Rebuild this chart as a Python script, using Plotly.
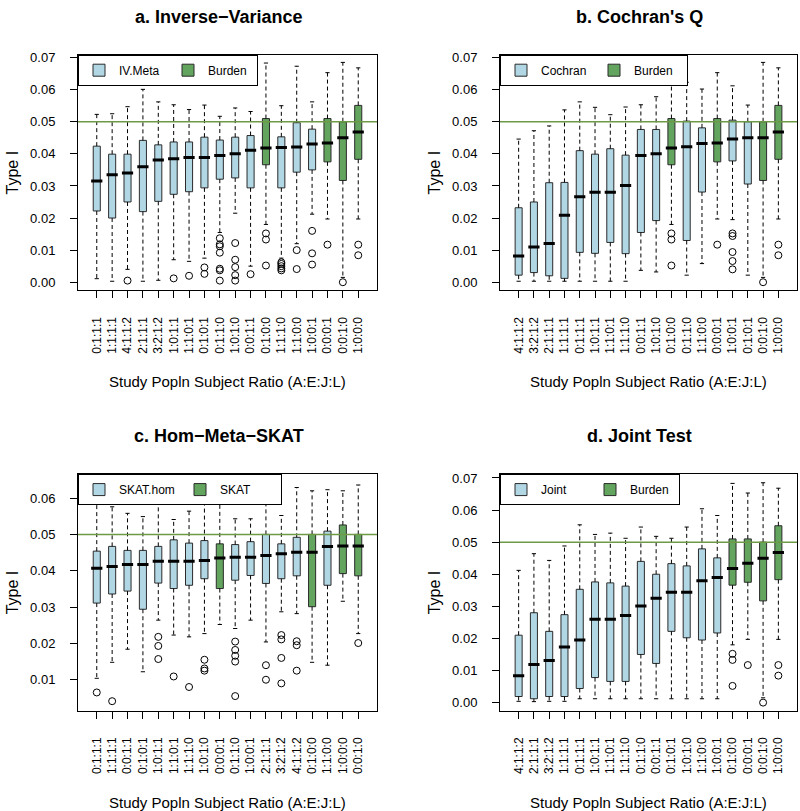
import plotly.graph_objects as go

# ---------------- DATA ----------------
# Panel a: Inverse-Variance
a_labels = ["0:1:1:1", "1:1:1:1", "4:1:1:2", "2:1:1:1", "3:2:1:2", "1:0:1:1", "1:1:0:1", "0:1:0:1", "0:1:1:0",
            "1:0:1:0", "0:0:1:1", "0:1:0:0", "1:1:1:0", "1:1:0:0", "1:0:0:1", "0:0:0:1", "0:0:1:0", "1:0:0:0"]
a_is_ref = [0, 0, 0, 0, 0, 0, 0, 0, 0, 0, 0, 1, 0, 0, 0, 1, 1, 1]
a_upper = [0.0523, 0.0525, 0.0547, 0.0601, 0.0562, 0.0553, 0.0538, 0.0552, 0.0517, 0.0543, 0.0532, 0.0683, 0.0550, 0.0673, 0.0562, 0.0653, 0.0685, 0.0668]
a_q3 = [0.0424, 0.0399, 0.0399, 0.0442, 0.0428, 0.0437, 0.0437, 0.0452, 0.0443, 0.0452, 0.0457, 0.0510, 0.0453, 0.0497, 0.0477, 0.0510, 0.0500, 0.0551]
a_median = [0.0315, 0.0335, 0.0340, 0.0360, 0.0381, 0.0385, 0.0389, 0.0389, 0.0395, 0.0400, 0.0411, 0.0418, 0.0420, 0.0421, 0.0431, 0.0434, 0.0450, 0.0468]
a_q1 = [0.0222, 0.0200, 0.0250, 0.0220, 0.0252, 0.0274, 0.0282, 0.0294, 0.0321, 0.0325, 0.0294, 0.0366, 0.0294, 0.0343, 0.0350, 0.0375, 0.0317, 0.0383]
a_lower = [0.0011, 0.0003, 0.0040, 0.0003, 0.0006, 0.0070, 0.0065, 0.0075, 0.0155, 0.0215, 0.0050, 0.0180, 0.0075, 0.0120, 0.0212, 0.0197, 0.0015, 0.0197]
a_outliers = [[], [], [0.0005], [], [], [0.0012], [0.0020], [0.0046, 0.0026],
              [0.0137, 0.0118, 0.0112, 0.0092, 0.0042, 0.0037, 0.0005],
              [0.0122, 0.0070, 0.0047, 0.0022, 0.0005], [0.0025], [0.0152, 0.0133, 0.0052],
              [0.0062, 0.0057, 0.0050, 0.0043, 0.0037], [0.0100, 0.0041], [0.0160, 0.0090, 0.0055],
              [0.0117], [0.0000], [0.0117, 0.0084]]

# Panel b: Cochran's Q
b_labels = ["4:1:1:2", "3:2:1:2", "2:1:1:1", "1:1:1:1", "0:1:1:1", "1:0:1:1", "1:1:0:1", "1:1:1:0", "0:0:1:1",
            "1:0:1:0", "0:1:0:0", "0:1:1:0", "1:1:0:0", "0:0:0:1", "1:0:0:1", "0:1:0:1", "0:0:1:0", "1:0:0:0"]
b_is_ref = [0, 0, 0, 0, 0, 0, 0, 0, 0, 0, 1, 0, 0, 1, 0, 0, 1, 1]
b_upper = [0.0446, 0.0472, 0.0487, 0.0537, 0.0562, 0.0545, 0.0522, 0.0546, 0.0553, 0.0578, 0.0683, 0.0623, 0.0602, 0.0653, 0.0612, 0.0552, 0.0685, 0.0668]
b_q3 = [0.0232, 0.0250, 0.0310, 0.0311, 0.0410, 0.0399, 0.0416, 0.0396, 0.0476, 0.0476, 0.0510, 0.0502, 0.0481, 0.0510, 0.0505, 0.0500, 0.0500, 0.0551]
b_median = [0.0082, 0.0110, 0.0121, 0.0209, 0.0266, 0.0280, 0.0280, 0.0301, 0.0395, 0.0400, 0.0418, 0.0422, 0.0432, 0.0434, 0.0446, 0.0450, 0.0450, 0.0468]
b_q1 = [0.0022, 0.0030, 0.0020, 0.0012, 0.0093, 0.0090, 0.0124, 0.0089, 0.0155, 0.0192, 0.0366, 0.0130, 0.0281, 0.0375, 0.0378, 0.0306, 0.0317, 0.0383]
b_lower = [0.0003, 0.0003, 0.0003, 0.0003, 0.0003, 0.0003, 0.0003, 0.0003, 0.0037, 0.0032, 0.0180, 0.0022, 0.0058, 0.0197, 0.0195, 0.0022, 0.0015, 0.0197]
b_outliers = [[], [], [], [], [], [], [], [], [], [], [0.0152, 0.0133, 0.0052], [], [], [0.0117],
              [0.0152, 0.0144, 0.0094, 0.0066, 0.0040], [], [0.0000], [0.0117, 0.0084]]

# Panel c: Hom-Meta-SKAT
c_labels = ["0:1:1:1", "1:1:1:1", "0:0:1:1", "0:1:0:1", "1:0:1:1", "1:1:0:1", "1:1:1:0", "1:0:1:0", "0:0:0:1",
            "0:1:1:0", "1:0:0:1", "2:1:1:1", "3:2:1:2", "4:1:1:2", "0:1:0:0", "1:1:0:0", "1:0:0:0", "0:0:1:0"]
c_is_ref = [0, 0, 0, 0, 0, 0, 0, 0, 1, 0, 0, 0, 0, 0, 1, 0, 1, 1]
c_upper = [0.0593, 0.0576, 0.0558, 0.0549, 0.0616, 0.0541, 0.0564, 0.0604, 0.0616, 0.0543, 0.0543, 0.0643, 0.0552, 0.0629, 0.0620, 0.0623, 0.0620, 0.0636]
c_q3 = [0.0454, 0.0467, 0.0456, 0.0456, 0.0467, 0.0485, 0.0476, 0.0483, 0.0474, 0.0472, 0.0480, 0.0500, 0.0474, 0.0492, 0.0500, 0.0509, 0.0526, 0.0500]
c_median = [0.0407, 0.0412, 0.0417, 0.0417, 0.0426, 0.0426, 0.0426, 0.0428, 0.0435, 0.0437, 0.0437, 0.0442, 0.0447, 0.0451, 0.0451, 0.0467, 0.0468, 0.0468]
c_q1 = [0.0311, 0.0336, 0.0344, 0.0294, 0.0366, 0.0351, 0.0360, 0.0378, 0.0351, 0.0374, 0.0387, 0.0365, 0.0378, 0.0386, 0.0301, 0.0360, 0.0392, 0.0386]
c_lower = [0.0104, 0.0148, 0.0184, 0.0122, 0.0264, 0.0223, 0.0218, 0.0227, 0.0252, 0.0241, 0.0264, 0.0204, 0.0287, 0.0282, 0.0148, 0.0140, 0.0316, 0.0227]
c_outliers = [[0.0065], [0.0041], [], [], [0.0218, 0.0193, 0.0157], [0.0109], [0.0080], [0.0155, 0.0131, 0.0125],
              [], [0.0205, 0.0182, 0.0166, 0.0150, 0.0055], [0.0632], [0.0140, 0.0100],
              [0.0223, 0.0211, 0.0160, 0.0090], [0.0206, 0.0195, 0.0125], [], [], [], [0.0201]]

# Panel d: Joint Test
d_labels = ["4:1:1:2", "2:1:1:1", "3:2:1:2", "1:1:1:1", "0:1:1:1", "1:0:1:1", "1:1:0:1", "1:1:1:0", "0:1:1:0",
            "0:0:1:1", "0:1:0:1", "1:0:1:0", "1:1:0:0", "1:0:0:1", "0:1:0:0", "0:0:0:1", "0:0:1:0", "1:0:0:0"]
d_is_ref = [0, 0, 0, 0, 0, 0, 0, 0, 0, 0, 0, 0, 0, 0, 1, 1, 1, 1]
d_upper = [0.0412, 0.0464, 0.0443, 0.0488, 0.0554, 0.0524, 0.0528, 0.0512, 0.0547, 0.0518, 0.0512, 0.0547, 0.0604, 0.0583, 0.0683, 0.0653, 0.0685, 0.0668]
d_q3 = [0.0210, 0.0280, 0.0222, 0.0274, 0.0353, 0.0376, 0.0373, 0.0363, 0.0440, 0.0400, 0.0433, 0.0426, 0.0479, 0.0451, 0.0510, 0.0510, 0.0500, 0.0551]
d_median = [0.0084, 0.0119, 0.0131, 0.0173, 0.0195, 0.0260, 0.0260, 0.0271, 0.0301, 0.0325, 0.0344, 0.0344, 0.0380, 0.0390, 0.0418, 0.0434, 0.0450, 0.0468]
d_q1 = [0.0019, 0.0012, 0.0019, 0.0019, 0.0044, 0.0078, 0.0066, 0.0066, 0.0150, 0.0122, 0.0222, 0.0202, 0.0195, 0.0217, 0.0366, 0.0375, 0.0317, 0.0383]
d_lower = [0.0004, 0.0003, 0.0004, 0.0004, 0.0012, 0.0012, 0.0012, 0.0012, 0.0012, 0.0012, 0.0012, 0.0012, 0.0012, 0.0012, 0.0180, 0.0197, 0.0015, 0.0197]
d_outliers = [[], [], [], [], [], [], [], [], [], [], [], [], [], [], [0.0152, 0.0133, 0.0052], [0.0117], [0.0000], [0.0117, 0.0084]]

titles = ["a. Inverse\u2212Variance", "b. Cochran's Q", "c. Hom\u2212Meta\u2212SKAT", "d. Joint Test"]
legend_names = [("IV.Meta", "Burden"), ("Cochran", "Burden"), ("SKAT.hom", "SKAT"), ("Joint", "Burden")]
y_ticks_ab = [0.00, 0.01, 0.02, 0.03, 0.04, 0.05, 0.06, 0.07]
y_ticks_c = [0.01, 0.02, 0.03, 0.04, 0.05, 0.06]
alpha_line = 0.05
x_title = "Study Popln Subject Ratio (A:E:J:L)"
y_title = "Type I"

# ---------------- STYLE ----------------
FONT = "Liberation Sans, Arial, Helvetica, sans-serif"
BLUE = "#b1d6e4"
GREEN = "#63a45e"
HLINE = "#6f9a45"
EDGE = "#2b2b2b"
W, H = 800, 811
legend_entry_px = [44, 48, 56, 44]

panels = [
    dict(labels=a_labels, ref=a_is_ref, up=a_upper, q3=a_q3, med=a_median, q1=a_q1, lo=a_lower, out=a_outliers,
         xdom=[78 / W, 377 / W], ydom=[1 - 287 / H, 1 - 50 / H], yr=[-0.0025, 0.0709], yt=y_ticks_ab),
    dict(labels=b_labels, ref=b_is_ref, up=b_upper, q3=b_q3, med=b_median, q1=b_q1, lo=b_lower, out=b_outliers,
         xdom=[500 / W, 797 / W], ydom=[1 - 287 / H, 1 - 50 / H], yr=[-0.0025, 0.0709], yt=y_ticks_ab),
    dict(labels=c_labels, ref=c_is_ref, up=c_upper, q3=c_q3, med=c_median, q1=c_q1, lo=c_lower, out=c_outliers,
         xdom=[78 / W, 377 / W], ydom=[1 - 710 / H, 1 - 472 / H], yr=[0.0015, 0.0666], yt=y_ticks_c),
    dict(labels=d_labels, ref=d_is_ref, up=d_upper, q3=d_q3, med=d_median, q1=d_q1, lo=d_lower, out=d_outliers,
         xdom=[500 / W, 797 / W], ydom=[1 - 710 / H, 1 - 472 / H], yr=[-0.0025, 0.0712], yt=y_ticks_ab),
]

fig = go.Figure()
annotations = []
shapes = []
layout_extra = {}

for k, p in enumerate(panels):
    sfx = "" if k == 0 else str(k + 1)
    xa, ya = "x" + sfx, "y" + sfx
    leg = "legend" + sfx
    n = len(p["labels"])
    pos = list(range(n))

    # whiskers (dashed)
    wx, wy = [], []
    for i in pos:
        wx += [i, i, None, i, i, None]
        wy += [p["q3"][i], p["up"][i], None, p["q1"][i], p["lo"][i], None]
    fig.add_trace(go.Scatter(x=wx, y=wy, mode="lines", line=dict(color="black", width=1, dash="4px,3px"),
                             xaxis=xa, yaxis=ya, showlegend=False, hoverinfo="skip"))
    # staples
    fig.add_trace(go.Scatter(x=pos + pos, y=p["up"] + p["lo"], mode="markers",
                             marker=dict(symbol="line-ew", size=3, line=dict(color="black", width=1)),
                             xaxis=xa, yaxis=ya, showlegend=False, hoverinfo="skip"))

    # boxes
    for grp, color, name in [(0, BLUE, legend_names[k][0]), (1, GREEN, legend_names[k][1])]:
        idx = [i for i in pos if p["ref"][i] == grp]
        fig.add_trace(go.Box(
            x=idx,
            q1=[p["q1"][i] for i in idx], median=[p["med"][i] for i in idx], q3=[p["q3"][i] for i in idx],
            lowerfence=[p["q1"][i] for i in idx], upperfence=[p["q3"][i] for i in idx],
            width=0.46, whiskerwidth=0, fillcolor=color, line=dict(color=EDGE, width=1),
            name=name, xaxis=xa, yaxis=ya, legend=leg, hoverinfo="skip", boxpoints=False))

    # thick medians
    fig.add_trace(go.Scatter(x=pos, y=p["med"], mode="markers",
                             marker=dict(symbol="line-ew", size=8, line=dict(color="black", width=3)),
                             xaxis=xa, yaxis=ya, showlegend=False, hoverinfo="skip"))
    # outliers
    ox, oy = [], []
    for i in pos:
        for v in p["out"][i]:
            ox.append(i)
            oy.append(v)
    fig.add_trace(go.Scatter(x=ox, y=oy, mode="markers",
                             marker=dict(symbol="circle-open", size=7, color="black", line=dict(width=1)),
                             xaxis=xa, yaxis=ya, showlegend=False, hoverinfo="skip"))

    axis_common = dict(showline=True, linecolor="black", linewidth=1, mirror=True, ticks="outside",
                       ticklen=7, tickcolor="black", showgrid=False, zeroline=False,
                       tickfont=dict(family=FONT, color="black"))
    layout_extra["xaxis" + sfx] = dict(axis_common, domain=p["xdom"], anchor=ya, range=[-1.22, n - 1 + 1.22],
                                       tickmode="array", tickvals=pos, ticktext=p["labels"], tickangle=-90,
                                       ticklabelstandoff=14, tickfont=dict(family=FONT, size=12, color="black"))
    layout_extra["yaxis" + sfx] = dict(axis_common, domain=p["ydom"], anchor=xa, range=p["yr"],
                                       tickmode="array", tickvals=p["yt"], ticktext=["%.2f" % v for v in p["yt"]],
                                       ticklabelstandoff=12, tickfont=dict(family=FONT, size=13, color="black"))

    # reference line at 0.05
    shapes.append(dict(type="line", xref=xa + " domain", yref=ya, x0=0, x1=1, y0=alpha_line, y1=alpha_line,
                       line=dict(color=HLINE, width=1.5), layer="above"))

    # legend
    layout_extra[leg] = dict(x=p["xdom"][0], y=p["ydom"][1], xanchor="left", yanchor="top", orientation="h",
                             bgcolor="white", bordercolor="black", borderwidth=1,
                             font=dict(family=FONT, size=12, color="black"), itemwidth=30,
                             entrywidth=legend_entry_px[k], entrywidthmode="pixels",
                             tracegroupgap=0)

    xc = (p["xdom"][0] + p["xdom"][1]) / 2
    top_px = (1 - p["ydom"][1]) * H
    bot_px = (1 - p["ydom"][0]) * H
    # title
    annotations.append(dict(text="<b>" + titles[k] + "</b>", xref="paper", yref="paper", x=xc - 9 / W,
                            y=1 - (top_px - 38) / H, xanchor="center", yanchor="middle", showarrow=False,
                            font=dict(family=FONT, size=18, color="black")))
    # x title
    annotations.append(dict(text=x_title, xref="paper", yref="paper", x=xc, y=1 - (bot_px + 92) / H,
                            xanchor="center", yanchor="middle", showarrow=False,
                            font=dict(family=FONT, size=15, color="black")))
    # y title
    annotations.append(dict(text=y_title, xref="paper", yref="paper", x=(p["xdom"][0] * W - 66) / W,
                            y=(p["ydom"][0] + p["ydom"][1]) / 2, xanchor="center", yanchor="middle",
                            textangle=-90, showarrow=False, font=dict(family=FONT, size=16, color="black")))

fig.update_layout(width=W, height=H, margin=dict(l=0, r=0, t=0, b=0), plot_bgcolor="white",
                  paper_bgcolor="white", boxmode="overlay", annotations=annotations, shapes=shapes,
                  **layout_extra)

fig.write_html("out.html", config={"displayModeBar": False},
               post_script="document.body.style.margin='0px';document.body.style.padding='0px';")
